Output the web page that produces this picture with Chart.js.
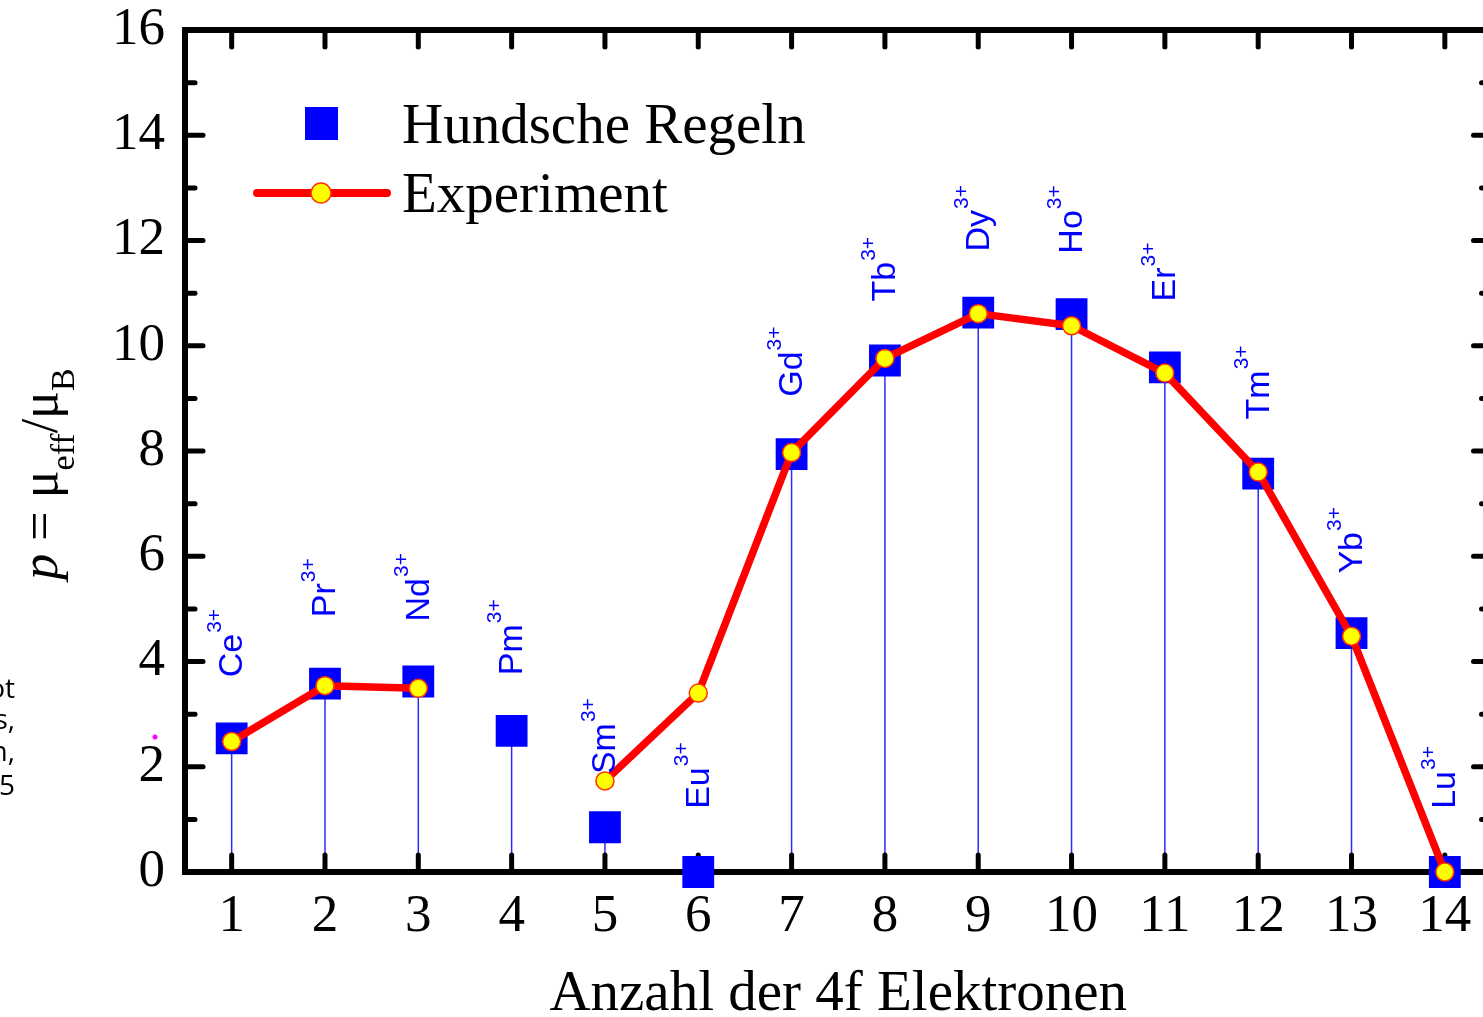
<!DOCTYPE html>
<html>
<head>
<meta charset="utf-8">
<title>Effektives magnetisches Moment der Lanthanoide</title>
<script src="https://cdn.jsdelivr.net/npm/chart.js@4.4.1/dist/chart.umd.min.js"></script>
<style>
  html, body { margin: 0; padding: 0; background: #fff; overflow: hidden; }
  #wrap { width: 1514px; height: 1017px; }
</style>
</head>
<body>
<div id="wrap"><canvas id="chart" width="1514" height="1017"></canvas></div>
<script>
// Data
const electrons = [1, 2, 3, 4, 5, 6, 7, 8, 9, 10, 11, 12, 13, 14];
const ions = ['Ce', 'Pr', 'Nd', 'Pm', 'Sm', 'Eu', 'Gd', 'Tb', 'Dy', 'Ho', 'Er', 'Tm', 'Yb', 'Lu'];
const hundValues = [2.54, 3.58, 3.62, 2.68, 0.85, 0, 7.94, 9.72, 10.63, 10.60, 9.59, 7.57, 4.54, 0];
const expValues = [2.48, 3.54, 3.49, null, 1.73, 3.40, 7.97, 9.76, 10.61, 10.38, 9.48, 7.60, 4.48, 0];
// where each ion label starts (in p units)
const ionLabelY = [3.70, 4.84, 4.76, 3.74, 1.86, 1.20, 9.03, 10.84, 11.79, 11.75, 10.84, 8.60, 5.67, 1.20];
const yTicks = [0, 2, 4, 6, 8, 10, 12, 14, 16];

const SERIF = '"Liberation Serif", "Times New Roman", serif';
const SANS = '"Liberation Sans", Arial, sans-serif';

// no automatic padding from the tick labels, the plot area is pinned by layout.padding
const noScalePadding = s => {
  s.paddingTop = 0;
  s.paddingBottom = 0;
  s.paddingLeft = 0;
  s.paddingRight = 0;
};

// Frame with inward ticks on all four sides + drop lines
const framePlugin = {
  id: 'frame',
  beforeDatasetsDraw(chart) {
    const { ctx, chartArea: a, scales: { x, y } } = chart;
    ctx.save();

    // thin drop lines from the axis to each Hund value
    ctx.strokeStyle = '#2a2aff';
    ctx.lineWidth = 1.5;
    hundValues.forEach((v, i) => {
      if (!v) return;
      const px = x.getPixelForValue(electrons[i]);
      ctx.beginPath();
      ctx.moveTo(px, y.getPixelForValue(0));
      ctx.lineTo(px, y.getPixelForValue(v));
      ctx.stroke();
    });

    ctx.strokeStyle = '#000';
    ctx.lineWidth = 6;
    ctx.strokeRect(a.left, a.top, a.right - a.left, a.bottom - a.top);

    const seg = (x1, y1, x2, y2) => {
      ctx.beginPath();
      ctx.moveTo(x1, y1);
      ctx.lineTo(x2, y2);
      ctx.stroke();
    };
    ctx.lineWidth = 5;
    ctx.lineCap = 'round';
    electrons.forEach(v => {
      const px = x.getPixelForValue(v);
      seg(px, a.bottom, px, a.bottom - 17);
      seg(px, a.top, px, a.top + 17);
    });
    for (let v = y.min; v <= y.max; v++) {
      const py = y.getPixelForValue(v);
      const len = v % 2 === 0 ? 18 : 10;
      seg(a.left, py, a.left + len, py);
      seg(a.right, py, a.right - len, py);
    }
    ctx.restore();
  },

  afterDatasetsDraw(chart) {
    const { ctx, chartArea: a, scales: { x, y } } = chart;
    ctx.save();

    // Ion labels, rotated, with superscript 3+
    ctx.fillStyle = '#0000ff';
    ctx.textAlign = 'left';
    ctx.textBaseline = 'middle';
    ions.forEach((name, i) => {
      const px = x.getPixelForValue(electrons[i]);
      const py = y.getPixelForValue(ionLabelY[i]);
      ctx.save();
      ctx.translate(px, py);
      ctx.rotate(-Math.PI / 2);
      ctx.font = '34px ' + SANS;
      ctx.fillText(name, 0, 1);
      const w = ctx.measureText(name).width;
      ctx.font = '21px ' + SANS;
      ctx.fillText('3+', w + 1, -16);
      ctx.restore();
    });

    // Legend
    ctx.fillStyle = '#0000ff';
    ctx.fillRect(305, 107, 33, 33);
    ctx.strokeStyle = '#ff0000';
    ctx.lineWidth = 8;
    ctx.lineCap = 'round';
    ctx.beginPath();
    ctx.moveTo(257, 193);
    ctx.lineTo(387, 193);
    ctx.stroke();
    ctx.beginPath();
    ctx.arc(321, 193, 10, 0, Math.PI * 2);
    ctx.fillStyle = '#ffff00';
    ctx.fill();
    ctx.lineWidth = 1.5;
    ctx.strokeStyle = '#ff3300';
    ctx.stroke();

    ctx.fillStyle = '#000';
    ctx.textBaseline = 'alphabetic';
    ctx.font = '57px ' + SERIF;
    ctx.fillText('Hundsche Regeln', 402, 143);
    ctx.fillText('Experiment', 402, 212);

    // x axis title
    ctx.textAlign = 'center';
    ctx.fillText('Anzahl der 4f Elektronen', (a.left + a.right) / 2, 1010);

    // y axis title: p = μeff/μB
    const main = '52px ' + SERIF;
    const sub = '34px ' + SERIF;
    const runs = [
      { t: 'p', f: 'italic ' + main, dy: 0 },
      { t: ' = ', f: main, dy: 0 },
      { t: 'μ', f: main, dy: 0 },
      { t: 'eff', f: sub, dy: 17 },
      { t: '/', f: main, dy: 0 },
      { t: 'μ', f: main, dy: 0 },
      { t: 'B', f: sub, dy: 17 }
    ];
    let total = 0;
    runs.forEach(r => { ctx.font = r.f; r.w = ctx.measureText(r.t).width; total += r.w; });
    ctx.save();
    ctx.translate(57, 474);
    ctx.rotate(-Math.PI / 2);
    ctx.textAlign = 'left';
    let cx = -total / 2;
    runs.forEach(r => {
      ctx.font = r.f;
      ctx.fillText(r.t, cx, r.dy);
      cx += r.w;
    });
    ctx.restore();

    // cut-off text at the left edge of the page
    ctx.font = '28px "Open Sans", sans-serif';
    ctx.textAlign = 'right';
    ctx.fillText('ot', 15, 698);
    ctx.fillText('s,', 15, 729);
    ctx.fillText('n,', 15, 761);
    ctx.fillText('5', 15, 795);
    ctx.fillStyle = '#ff00ff';
    ctx.beginPath();
    ctx.arc(155, 737, 2.5, 0, Math.PI * 2);
    ctx.fill();

    ctx.restore();
  }
};

const ctx = document.getElementById('chart').getContext('2d');
const chart = new Chart(ctx, {
  type: 'line',
  data: {
    datasets: [
      {
        label: 'Experiment',
        data: electrons.map((v, i) => ({ x: v, y: expValues[i] })),
        borderColor: '#ff0000',
        borderWidth: 7.5,
        borderJoinStyle: 'round',
        borderCapStyle: 'round',
        pointRadius: 9,
        pointBackgroundColor: '#ffff00',
        pointBorderColor: '#ff3300',
        pointBorderWidth: 1.5,
        spanGaps: false,
        tension: 0,
        clip: false
      },
      {
        label: 'Hundsche Regeln',
        data: electrons.map((v, i) => ({ x: v, y: hundValues[i] })),
        showLine: false,
        pointStyle: 'rect',
        pointRadius: 22.5,
        pointBackgroundColor: '#0000ff',
        pointBorderWidth: 0,
        clip: false
      }
    ]
  },
  options: {
    responsive: false,
    animation: false,
    events: [],
    layout: { padding: { top: 30, right: 9, left: 0, bottom: 0 } },
    plugins: {
      legend: { display: false },
      tooltip: { enabled: false }
    },
    scales: {
      x: {
        type: 'linear',
        min: 0.5,
        max: 14.5,
        afterBuildTicks: s => { s.ticks = electrons.map(v => ({ value: v })); },
        afterFit: s => { s.height = 145; noScalePadding(s); },
        grid: { display: false, drawTicks: false },
        border: { display: false },
        ticks: {
          color: '#000',
          padding: 19,
          maxRotation: 0,
          autoSkip: false,
          font: { family: SERIF, size: 53, lineHeight: 1 }
        }
      },
      y: {
        min: 0,
        max: 16,
        afterBuildTicks: s => { s.ticks = yTicks.map(v => ({ value: v })); },
        afterFit: s => { s.width = 185; noScalePadding(s); },
        grid: { display: false, drawTicks: false },
        border: { display: false },
        ticks: {
          color: '#000',
          padding: 20,
          font: { family: SERIF, size: 53, lineHeight: 1 }
        }
      }
    }
  },
  plugins: [framePlugin]
});
</script>
</body>
</html>
